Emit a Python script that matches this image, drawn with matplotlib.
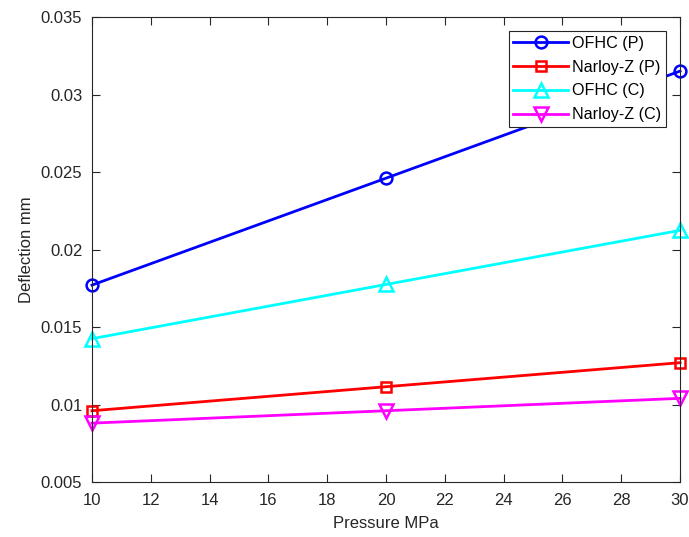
import matplotlib
matplotlib.use("Agg")
import matplotlib.pyplot as plt

plt.rcParams['font.family'] = ['Liberation Sans', 'DejaVu Sans']

pressure = [10, 20, 30]
ofhc_p = [0.01771, 0.02461, 0.03152]
narloy_p = [0.00960, 0.01115, 0.01270]
ofhc_c = [0.01425, 0.01775, 0.02124]
narloy_c = [0.00880, 0.00960, 0.01040]

xticks = [10, 12, 14, 16, 18, 20, 22, 24, 26, 28, 30]
yticks = [0.005, 0.01, 0.015, 0.02, 0.025, 0.03, 0.035]
ytick_labels = ["0.005", "0.01", "0.015", "0.02", "0.025", "0.03", "0.035"]

fig = plt.figure(figsize=(6.89, 5.37), dpi=100)
ax = fig.add_axes([0.1335, 0.1024, 0.8535, 0.8656])

style = dict(linewidth=2, markerfacecolor='none', markeredgewidth=1.8)
ax.plot(pressure, ofhc_p, color='#0000ff', marker='o', markersize=8.5, label='OFHC (P)', **style)
ax.plot(pressure, narloy_p, color='#ff0000', marker='s', markersize=6.5, label='Narloy-Z (P)', **style)
ax.plot(pressure, ofhc_c, color='#00ffff', marker='^', markersize=10, label='OFHC (C)', **style)
ax.plot(pressure, narloy_c, color='#ff00ff', marker='v', markersize=10, label='Narloy-Z (C)', **style)

ax.set_xlim(10, 30)
ax.set_ylim(0.005, 0.035)
ax.set_xticks(xticks)
ax.set_yticks(yticks)
ax.set_yticklabels(ytick_labels)
ax.tick_params(direction='in', top=True, right=True, labelsize=12, length=6,
               colors='#262626', width=0.8)
ax.tick_params(axis='x', pad=8)
ax.tick_params(axis='y', pad=7)
for sp in ax.spines.values():
    sp.set_color('#262626')
    sp.set_linewidth(0.8)

ax.set_xlabel('Pressure MPa', fontsize=12, color='#262626', labelpad=6)
ax.set_ylabel('Deflection mm', fontsize=12, color='#262626', labelpad=5)

leg = ax.legend(loc='upper right', bbox_to_anchor=(0.9765, 0.9705), fontsize=11.6,
                fancybox=False, framealpha=1, edgecolor='#262626',
                handlelength=3.4, borderpad=0.3, labelspacing=0.55, handletextpad=0.25,
                borderaxespad=0)
leg.get_frame().set_linewidth(0.8)
for line in ax.get_lines():
    line.set_clip_on(False)

fig.savefig('out.png', dpi=100)
